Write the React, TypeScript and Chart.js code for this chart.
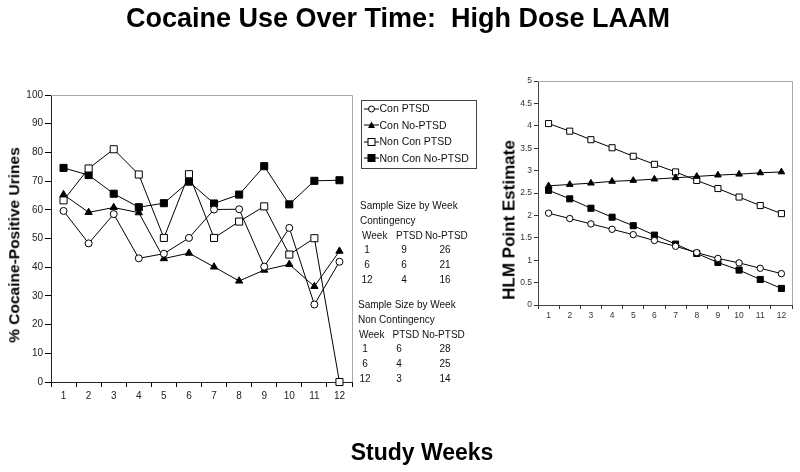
import React, { useEffect, useRef } from "react";
import { Chart, registerables } from "chart.js";
Chart.register(...registerables);

const weeks = ["1", "2", "3", "4", "5", "6", "7", "8", "9", "10", "11", "12"];
const seriesNames = ["Con PTSD", "Con No-PTSD", "Non Con PTSD", "Non Con No-PTSD"];

// % cocaine-positive urines
const conPtsd = [59.6, 48.3, 58.5, 43.1, 44.7, 50.2, 60.1, 60.2, 40.2, 53.7, 27.0, 41.9];
const conNoPtsd = [65.3, 59.1, 60.8, 59.0, 43.0, 44.9, 40.1, 35.2, 39.0, 41.0, 33.3, 45.6];
const nonConPtsd = [63.3, 74.4, 81.1, 72.3, 50.2, 72.4, 50.2, 55.9, 61.2, 44.4, 50.1, 0];
const nonConNoPtsd = [74.6, 72.1, 65.6, 60.9, 62.3, 69.8, 62.2, 65.3, 75.2, 61.9, 70.1, 70.3];

// HLM point estimates
const hlmConPtsd = [2.05, 1.93, 1.81, 1.69, 1.57, 1.44, 1.31, 1.17, 1.04, 0.94, 0.82, 0.7];
const hlmConNoPtsd = [2.66, 2.69, 2.72, 2.76, 2.78, 2.81, 2.84, 2.87, 2.9, 2.92, 2.95, 2.97];
const hlmNonConPtsd = [4.05, 3.88, 3.69, 3.51, 3.32, 3.14, 2.97, 2.78, 2.6, 2.41, 2.22, 2.04];
const hlmNonConNoPtsd = [2.56, 2.37, 2.16, 1.96, 1.77, 1.56, 1.36, 1.15, 0.95, 0.78, 0.57, 0.37];

// sample size tables
const tableHeader = ["Week", "PTSD", "No-PTSD"];
const contWeeks = ["1", "6", "12"];
const contPtsd = ["9", "6", "4"];
const contNoPtsd = ["26", "21", "16"];
const nonContWeeks = ["1", "6", "12"];
const nonContPtsd = ["6", "4", "3"];
const nonContNoPtsd = ["28", "25", "14"];

const FONT = "Arial, 'Liberation Sans', sans-serif";

const markerStyles = [
  { pointStyle: "circle", fill: "#ffffff" },
  { pointStyle: "triangle", fill: "#000000" },
  { pointStyle: "rect", fill: "#ffffff" },
  { pointStyle: "rect", fill: "#000000" },
];

const framePlugin = {
  id: "frame",
  beforeDatasetsDraw(chart: any) {
    const { ctx, chartArea } = chart;
    ctx.save();
    ctx.strokeStyle = "#a8a8a8";
    ctx.lineWidth = 1;
    ctx.beginPath();
    ctx.moveTo(chartArea.left, chartArea.top + 0.5);
    ctx.lineTo(chartArea.right + 0.5, chartArea.top + 0.5);
    ctx.lineTo(chartArea.right + 0.5, chartArea.bottom);
    ctx.stroke();
    ctx.restore();
  },
};

function makeDatasets(values: number[][], radii: number[]) {
  return values.map((data, i) => ({
    label: seriesNames[i],
    data,
    borderColor: "#000",
    borderWidth: 1,
    backgroundColor: markerStyles[i].fill,
    pointStyle: markerStyles[i].pointStyle,
    pointRadius: radii[i],
    pointBorderColor: "#000",
    pointBackgroundColor: markerStyles[i].fill,
    pointBorderWidth: 1,
    tension: 0,
    clip: false as any,
  }));
}

function CanvasChart({ config }: { config: any }) {
  const ref = useRef<HTMLCanvasElement | null>(null);
  useEffect(() => {
    if (!ref.current) return;
    const chart = new Chart(ref.current, config);
    return () => chart.destroy();
  }, []);
  return (
    <canvas
      ref={ref}
      width={800}
      height={472}
      style={{ position: "absolute", left: 0, top: 0, width: 800, height: 472 }}
    />
  );
}

const leftConfig = {
  type: "line",
  data: {
    labels: weeks,
    datasets: makeDatasets([conPtsd, conNoPtsd, nonConPtsd, nonConNoPtsd], [3.5, 4.2, 5, 5]),
  },
  options: {
    responsive: false,
    animation: false,
    events: [],
    layout: { padding: { left: 0, right: 448, top: 95, bottom: 0 }, autoPadding: false },
    plugins: { legend: { display: false }, tooltip: { enabled: false } },
    scales: {
      x: {
        type: "category",
        offset: true,
        afterFit: (s: any) => { s.height = 90; },
        grid: { display: true, drawOnChartArea: false, offset: true, tickLength: 5, color: "#000" },
        border: { color: "#222", width: 1 },
        ticks: { font: { family: FONT, size: 10 }, color: "#222", padding: 3, maxRotation: 0, autoSkip: false },
      },
      y: {
        type: "linear",
        min: 0,
        max: 100,
        afterFit: (s: any) => { s.width = 51; },
        grid: { display: true, drawOnChartArea: false, tickLength: 6, color: "#000" },
        border: { color: "#222", width: 1 },
        ticks: { stepSize: 10, font: { family: FONT, size: 10 }, color: "#222", padding: 2, callback: (v: any) => String(v) },
      },
    },
  },
  plugins: [framePlugin],
};

const rightConfig = {
  type: "line",
  data: {
    labels: weeks,
    datasets: makeDatasets([hlmConPtsd, hlmConNoPtsd, hlmNonConPtsd, hlmNonConNoPtsd], [3.2, 3.8, 4.3, 4.3]),
  },
  options: {
    responsive: false,
    animation: false,
    events: [],
    layout: { padding: { left: 495, right: 8, top: 81, bottom: 0 }, autoPadding: false },
    plugins: { legend: { display: false }, tooltip: { enabled: false } },
    scales: {
      x: {
        type: "category",
        offset: true,
        afterFit: (s: any) => { s.height = 167; },
        grid: { display: true, drawOnChartArea: false, offset: true, tickLength: 4, color: "#333" },
        border: { color: "#444", width: 1 },
        ticks: { font: { family: FONT, size: 8.5 }, color: "#333", padding: 2, maxRotation: 0, autoSkip: false },
      },
      y: {
        type: "linear",
        min: 0,
        max: 5,
        afterFit: (s: any) => { s.width = 43; },
        grid: { display: true, drawOnChartArea: false, tickLength: 4, color: "#333" },
        border: { color: "#444", width: 1 },
        ticks: { stepSize: 0.5, font: { family: FONT, size: 8.5 }, color: "#333", padding: 2, callback: (v: any) => String(+v) },
      },
    },
  },
  plugins: [framePlugin],
};

function LegendMarker({ idx }: { idx: number }) {
  const m = markerStyles[idx];
  let shape;
  if (m.pointStyle === "circle") shape = <circle cx={7.5} cy={5} r={3} fill={m.fill} stroke="#000" strokeWidth={1} />;
  else if (m.pointStyle === "triangle") shape = <polygon points="7.5,1.5 11,8 4,8" fill="#000" />;
  else shape = <rect x={4} y={1.5} width={7} height={7} fill={m.fill} stroke="#000" strokeWidth={1} />;
  return (
    <svg width={15} height={10} style={{ display: "block" }}>
      <line x1={0} y1={5} x2={15} y2={5} stroke="#000" strokeWidth={1} />
      {shape}
    </svg>
  );
}

const abs = (left: number, top: number, extra: any = {}) => ({
  position: "absolute" as const,
  left,
  top,
  whiteSpace: "nowrap" as const,
  lineHeight: 1,
  ...extra,
});

function Table({ top, title2, wk, pt, np, x0, hx, vx }: any) {
  const fs = 10;
  const lh = 14.8;
  const s = (l: number, t: number, txt: string, key: string) => (
    <div key={key} style={abs(l, t, { fontSize: fs, color: "#111" })}>{txt}</div>
  );
  const items = [
    s(x0, top, "Sample Size by Week", "t1"),
    s(x0, top + lh, title2, "t2"),
    s(x0 + hx[0], top + 2 * lh, tableHeader[0], "h0"),
    s(x0 + hx[1], top + 2 * lh, tableHeader[1], "h1"),
    s(x0 + hx[2], top + 2 * lh, tableHeader[2], "h2"),
  ];
  wk.forEach((w: string, i: number) => {
    const t = top + (3 + i) * lh;
    const c = (cx: number, txt: string, key: string) => (
      <div key={key} style={abs(x0 + cx - 10, t, { fontSize: fs, color: "#111", width: 20, textAlign: "center" })}>{txt}</div>
    );
    items.push(c(vx[0], w, "w" + i));
    items.push(c(vx[1], pt[i], "p" + i));
    items.push(c(vx[2], np[i], "n" + i));
  });
  return <>{items}</>;
}

export default function App() {
  return (
    <div
      style={{
        position: "fixed",
        left: 0,
        top: 0,
        width: 800,
        height: 472,
        background: "#fff",
        fontFamily: FONT,
        overflow: "hidden",
      }}
    >
      <CanvasChart config={leftConfig} />
      <CanvasChart config={rightConfig} />

      <div style={abs(398, 18, { transform: "translate(-50%,-50%)", fontSize: 27, fontWeight: "bold" })}>
        Cocaine Use Over Time:&nbsp; High Dose LAAM
      </div>
      <div style={abs(422, 452, { transform: "translate(-50%,-50%)", fontSize: 23, fontWeight: "bold" })}>
        Study Weeks
      </div>
      <div style={abs(13.5, 244.5, { transform: "translate(-50%,-50%) rotate(-90deg)", fontSize: 15.5, fontWeight: "bold" })}>
        % Cocaine-Positive Urines
      </div>
      <div style={abs(508.5, 220, { transform: "translate(-50%,-50%) rotate(-90deg)", fontSize: 17, fontWeight: "bold" })}>
        HLM Point Estimate
      </div>

      <div
        style={{
          position: "absolute",
          left: 361,
          top: 100,
          width: 116,
          height: 69,
          border: "1px solid #444",
          boxSizing: "border-box",
        }}
      >
        {seriesNames.map((n, i) => (
          <div key={n} style={{ position: "absolute", left: 1.5, top: 1.5 + i * 16.5, display: "flex", alignItems: "center", height: 12 }}>
            <LegendMarker idx={i} />
            <span style={{ fontSize: 10.5, marginLeft: 1, lineHeight: 1, color: "#111" }}>{n}</span>
          </div>
        ))}
      </div>

      <Table top={201} title2="Contingency" wk={contWeeks} pt={contPtsd} np={contNoPtsd} x0={360}
        hx={[2, 36, 65]} vx={[7, 44, 85]} />
      <Table top={300} title2="Non Contingency" wk={nonContWeeks} pt={nonContPtsd} np={nonContNoPtsd} x0={358}
        hx={[1, 34.5, 64]} vx={[7, 41, 87]} />
    </div>
  );
}
